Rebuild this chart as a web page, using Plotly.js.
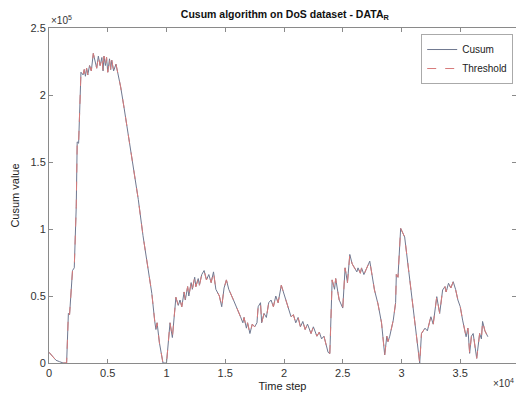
<!DOCTYPE html>
<html>
<head>
<meta charset="utf-8">
<script src="https://cdn.plot.ly/plotly-3.0.1.min.js"></script>
<style>html,body{margin:0;padding:0;background:#fff;}#chart{width:516px;height:394px;}</style>
</head>
<body>
<div id="chart"></div>
<script>
// Time steps (raw) and Cusum values (raw)
var timeStep = [0,300,600,900,1200,1500,1650,1750,2000,2150,2250,2320,2400,2520,2720,2900,3000,3100,3200,3300,3450,3600,3770,3900,4060,4200,4350,4500,4600,4680,4800,4900,5000,5150,5250,5340,5500,5700,5900,6100,6380,6500,6980,7600,8000,8200,8750,9000,9100,9200,9400,9700,10000,10300,10500,10800,11000,11150,11300,11500,11600,11800,11900,12100,12200,12400,12500,12700,12800,13000,13200,13400,13600,13800,14000,14200,14500,14700,14900,15100,15300,15700,16000,16300,16500,16600,16800,16900,17100,17300,17500,17700,17800,18000,18100,18300,18500,18700,18900,19100,19300,19500,19770,20060,20300,20600,20800,21000,21200,21400,21600,21800,22000,22300,22500,22800,23000,23200,23400,23600,23750,23900,24100,24300,24400,24600,24700,25000,25200,25400,25600,25800,26000,26200,26300,26500,26600,26800,27000,27300,27700,28000,28300,28570,28750,28850,29000,29300,29500,29560,29700,29930,30270,30550,31000,31550,31700,32000,32200,32500,32700,33000,33250,33500,33700,33800,34000,34200,34400,34600,34800,35000,35200,35500,35650,35800,35950,36100,36400,36650,36800,36900,37100,37350];
var cusum = [8000,5000,2000,1000,0,0,37000,36000,69000,71000,92000,117000,165000,164000,217000,215000,219000,214000,220000,215000,222000,218000,231000,226000,220000,229000,222000,228000,218000,229000,222000,228000,217000,227000,219000,226000,218000,223000,215000,206000,191000,184000,159000,122000,95000,84000,52000,31000,25000,30000,15000,0,0,30000,19000,49000,43000,47000,42000,53000,47000,57000,50000,60000,55000,64000,57000,63000,58000,66000,69000,62000,66000,60000,68000,55000,50000,42000,56000,62000,55000,47000,40000,34500,30000,34000,26000,30000,22000,29000,27000,30000,42000,45000,30000,37000,34000,45000,47000,42000,50000,45000,58000,49500,44000,34500,36000,30000,34000,27000,31000,25000,29000,22000,27000,20000,23000,18000,20000,12000,8000,7000,62000,55000,63000,52000,47000,41000,71000,60000,81000,74000,71000,68000,71000,67000,71000,66000,70000,76000,54500,44000,30000,6000,20000,16000,20000,32000,45000,66000,64000,100500,94000,74000,38000,0,22000,26000,24000,34500,29000,49500,37000,54500,57000,53000,59500,56000,60700,55000,47000,42000,32000,19600,26000,7200,20000,22000,3500,22000,18000,31000,24000,19600];
var seriesNames = ['Cusum', 'Threshold'];
var yTickVals = [0, 50000, 100000, 150000, 200000, 250000];
var yTickText = ['0', '0.5', '1', '1.5', '2', '2.5'];
var xTickVals = [0, 5000, 10000, 15000, 20000, 25000, 30000, 35000];
var xTickText = ['0', '0.5', '1', '1.5', '2', '2.5', '3', '3.5'];

var font = 'Liberation Sans, Arial, Helvetica, sans-serif';
var traces = [
  {x: timeStep, y: cusum, name: seriesNames[0], mode: 'lines', type: 'scatter',
   line: {color: '#6f7890', width: 1}},
  {x: timeStep, y: cusum, name: seriesNames[1], mode: 'lines', type: 'scatter',
   line: {color: '#d77a7a', width: 1, dash: 'dash'}}
];
var axisCommon = {
  showgrid: false, zeroline: false, showline: true, linecolor: '#8a8a8a', linewidth: 1,
  mirror: 'allticks', ticks: 'inside', ticklen: 4, tickcolor: '#8a8a8a',
  tickfont: {family: font, size: 11, color: '#333'}
};
var layout = {
  width: 516, height: 394,
  margin: {l: 49, r: 0, t: 28, b: 31},
  paper_bgcolor: '#fff', plot_bgcolor: '#fff',
  font: {family: font, color: '#222'},
  title: {text: '<b>Cusum algorithm on DoS dataset - DATA<sub>R</sub></b>',
          font: {family: font, size: 10.5, color: '#111'},
          x: 0.505, xref: 'paper', y: 0.963, yref: 'container', yanchor: 'middle'},
  xaxis: Object.assign({}, axisCommon, {range: [0, 39745], tickvals: xTickVals, ticktext: xTickText,
          title: {text: 'Time step', font: {family: font, size: 11, color: '#222'}, standoff: 4}}),
  yaxis: Object.assign({}, axisCommon, {range: [0, 250000], tickvals: yTickVals, ticktext: yTickText,
          title: {text: 'Cusum value', font: {family: font, size: 11, color: '#222'}, standoff: 8}}),
  showlegend: true,
  legend: {x: 0.797, y: 0.982, xanchor: 'left', yanchor: 'top', bordercolor: '#aaa', borderwidth: 1,
           bgcolor: '#fff', font: {family: font, size: 10, color: '#222'}, tracegroupgap: 0,
           itemwidth: 30},
  annotations: [
    {text: '×10<sup>5</sup>', xref: 'paper', yref: 'paper', x: 0.0, y: 1.0, xanchor: 'left', yanchor: 'bottom',
     showarrow: false, font: {family: font, size: 10, color: '#333'}},
    {text: '×10<sup>4</sup>', xref: 'paper', yref: 'paper', x: 1.0, y: -0.035, xanchor: 'right', yanchor: 'top',
     showarrow: false, font: {family: font, size: 10, color: '#333'}}
  ]
};
Plotly.newPlot('chart', traces, layout, {displayModeBar: false, staticPlot: true});
</script>
</body>
</html>
